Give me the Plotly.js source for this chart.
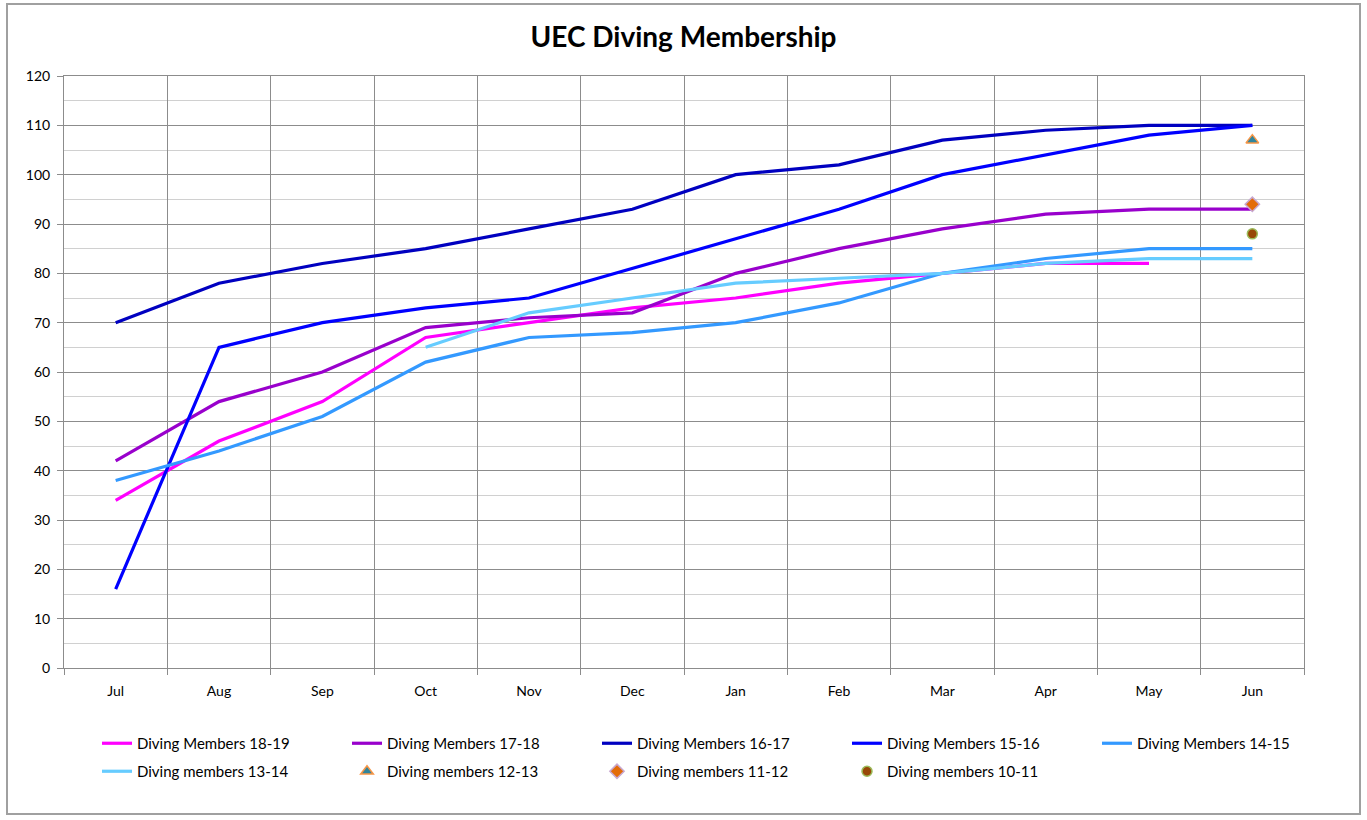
<!DOCTYPE html>
<html>
<head>
<meta charset="utf-8">
<script src="https://cdn.plot.ly/plotly-3.0.1.min.js"></script>
<style>
  html, body { margin: 0; padding: 0; background: #ffffff; }
  #chart { width: 1367px; height: 820px; }
</style>
</head>
<body>
<div id="chart"></div>
<script>
// ---- Data ----
const months = ["Jul", "Aug", "Sep", "Oct", "Nov", "Dec", "Jan", "Feb", "Mar", "Apr", "May", "Jun"];

const members1819 = [34, 46, 54, 67, 70, 73, 75, 78, 80, 82, 82, null];
const members1718 = [42, 54, 60, 69, 71, 72, 80, 85, 89, 92, 93, 93];
const members1617 = [70, 78, 82, 85, 89, 93, 100, 102, 107, 109, 110, 110];
const members1516 = [16, 65, 70, 73, 75, 81, 87, 93, 100, 104, 108, 110];
const members1415 = [38, 44, 51, 62, 67, 68, 70, 74, 80, 83, 85, 85];
const members1314 = [null, null, null, 65, 72, 75, 78, 79, 80, 82, 83, 83];
const members1213 = [null, null, null, null, null, null, null, null, null, null, null, 107];
const members1112 = [null, null, null, null, null, null, null, null, null, null, null, 94];
const members1011 = [null, null, null, null, null, null, null, null, null, null, null, 88];

const yTicks = [0, 10, 20, 30, 40, 50, 60, 70, 80, 90, 100, 110, 120];

// ---- Styling ----
const FONT = "Lato, 'Open Sans', sans-serif";

function lineTrace(name, y, color, legendId) {
  return {
    type: "scatter", mode: "lines", name: name,
    x: months, y: y,
    line: { color: color, width: 3.2 },
    connectgaps: false,
    legend: legendId
  };
}
function markerTrace(name, y, symbol, fill, border, size, legendId) {
  return {
    type: "scatter", mode: "markers", name: name,
    x: months, y: y,
    marker: { symbol: symbol, color: fill, size: size, line: { color: border, width: 1.5 } },
    legend: legendId
  };
}

const traces = [
  lineTrace("Diving Members 18-19", members1819, "#FF00FF", "legend"),
  lineTrace("Diving Members 17-18", members1718, "#9900CC", "legend"),
  lineTrace("Diving Members 16-17", members1617, "#0000C0", "legend"),
  lineTrace("Diving Members 15-16", members1516, "#0000FF", "legend"),
  lineTrace("Diving Members 14-15", members1415, "#3399FF", "legend3"),
  lineTrace("Diving members 13-14", members1314, "#66CCFF", "legend2"),
  markerTrace("Diving members 12-13", members1213, "triangle-up", "#31859C", "#F79646", 11, "legend2"),
  markerTrace("Diving members 11-12", members1112, "diamond", "#E36C09", "#C8A8D0", 11, "legend2"),
  markerTrace("Diving members 10-11", members1011, "circle", "#984807", "#9BBB59", 10, "legend2")
];

function legendRow(leftPx, topPx) {
  return {
    orientation: "h",
    xref: "container", yref: "container",
    x: leftPx / 1367, xanchor: "left",
    y: 1 - topPx / 820, yanchor: "top",
    entrywidth: 205, entrywidthmode: "pixels",
    font: { family: FONT, size: 15, color: "#000000" },
    bgcolor: "rgba(0,0,0,0)", borderwidth: 0,
    traceorder: "normal"
  };
}

const layout = {
  width: 1367, height: 820,
  paper_bgcolor: "#ffffff", plot_bgcolor: "#ffffff",
  margin: { l: 64, r: 63, t: 76, b: 152 },
  font: { family: FONT, size: 14, color: "#000000" },
  title: {
    text: "<b>UEC Diving Membership</b>",
    font: { family: FONT, size: 28, color: "#000000" },
    x: 0.5, xanchor: "center", xref: "container",
    y: 1 - 37 / 820, yanchor: "middle", yref: "container"
  },
  xaxis: {
    type: "category",
    categoryorder: "array", categoryarray: months,
    range: [-0.5, 11.5],
    tickson: "boundaries",
    ticks: "outside", ticklen: 6, tickcolor: "#8c8c8c", tickwidth: 1,
    showgrid: true, gridcolor: "#8c8c8c", gridwidth: 1,
    showline: true, linecolor: "#8c8c8c", linewidth: 1, mirror: true,
    tickfont: { family: FONT, size: 14, color: "#000000" },
    ticklabelstandoff: 10,
    zeroline: false, fixedrange: true
  },
  yaxis: {
    range: [0, 120],
    tickmode: "array", tickvals: yTicks, ticktext: yTicks.map(String),
    ticks: "outside", ticklen: 6, tickcolor: "#8c8c8c", tickwidth: 1,
    showgrid: true, gridcolor: "#8c8c8c", gridwidth: 1,
    minor: { dtick: 5, showgrid: true, gridcolor: "#d0d0d0", gridwidth: 1, ticks: "" },
    showline: true, linecolor: "#8c8c8c", linewidth: 1, mirror: true,
    tickfont: { family: FONT, size: 14, color: "#000000" },
    zeroline: false, fixedrange: true,
    ticklabelstandoff: 4
  },
  showlegend: true,
  legend: legendRow(97, 727),
  legend3: legendRow(1097, 727),
  legend2: legendRow(97, 755),
  shapes: [
    {
      type: "rect", xref: "paper", yref: "paper",
      x0: (7 - 64) / 1240, x1: (1360 - 64) / 1240,
      y0: (668 - 814) / 592, y1: (668 - 4) / 592,
      line: { color: "#a0a0a0", width: 2 }, fillcolor: "rgba(0,0,0,0)",
      layer: "below"
    }
  ]
};

Plotly.newPlot("chart", traces, layout, { displayModeBar: false, staticPlot: true });
</script>
</body>
</html>
